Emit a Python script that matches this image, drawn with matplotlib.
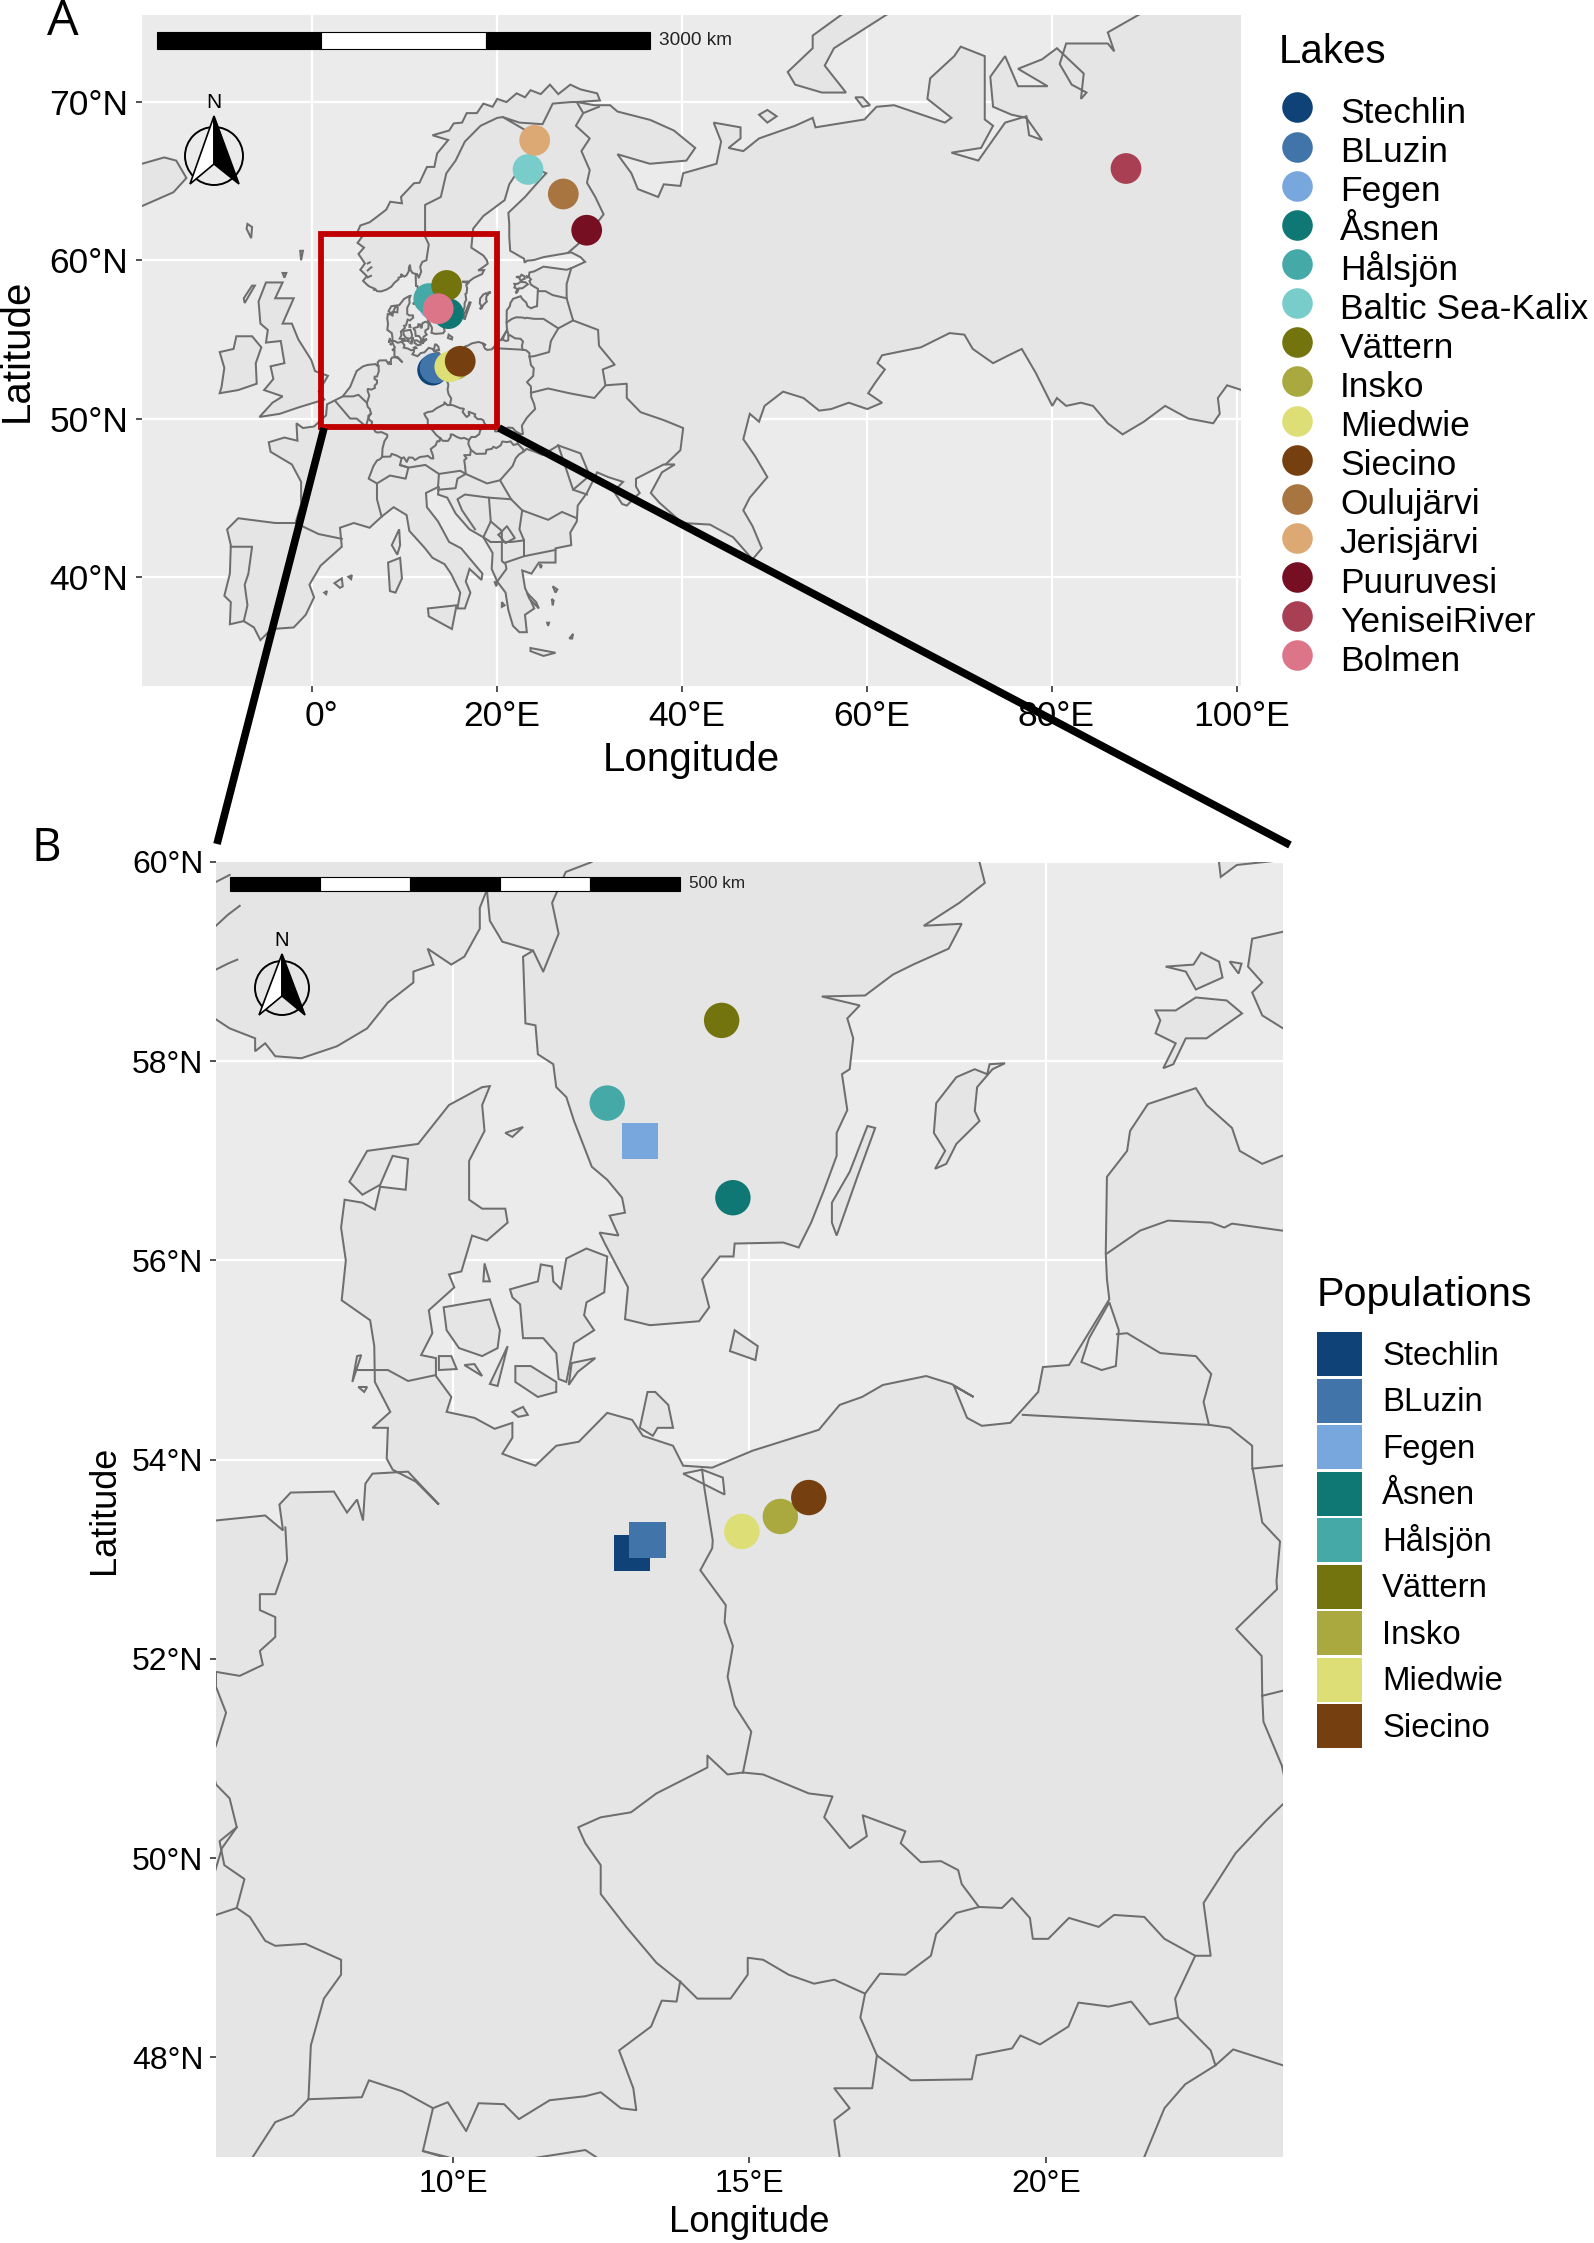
import matplotlib
matplotlib.use("Agg")
import matplotlib.pyplot as plt
from matplotlib.patches import Polygon, Rectangle, Circle, Patch
from matplotlib.lines import Line2D
from matplotlib.transforms import ScaledTranslation

plt.rcParams['font.family'] = ['Liberation Sans', 'DejaVu Sans']

W, H = 1594, 2243

# ---- data -----------------------------------------------------------------
lakes = ["Stechlin", "BLuzin", "Fegen", "Åsnen", "Hålsjön", "Baltic Sea-Kalix", "Vättern", "Insko",
         "Miedwie", "Siecino", "Oulujärvi", "Jerisjärvi", "Puuruvesi", "YeniseiRiver", "Bolmen"]
lake_lon = [13.02, 13.28, 13.15, 14.72, 12.6, 23.33, 14.53, 15.52, 14.87, 16.0, 27.14, 24.05, 29.67, 87.97, 13.62]
lake_lat = [53.06, 53.19, 57.2, 56.63, 57.58, 65.74, 58.41, 53.43, 53.28, 53.62, 64.19, 67.58, 61.9, 65.8, 56.94]
lake_colors = ["#0f4377", "#4174a8", "#77a7dc", "#0f7875", "#44a9a7", "#78cdcb", "#74740f", "#a9a93f",
               "#dede76", "#763f0f", "#a8743f", "#dca874", "#760f21", "#a83f52", "#dd7588"]
populations = ["Stechlin", "BLuzin", "Fegen", "Åsnen", "Hålsjön", "Vättern", "Insko", "Miedwie", "Siecino"]
pop_markers = ["s", "s", "s", "o", "o", "o", "o", "o", "o"]

main_land = [
    (110, 51.8), (100.47, 51.8), (98.9, 52.1), (97.9, 51.3), (98.1, 50.3), (97.4, 49.7), (94.7, 50.0), (92.2, 50.8),
    (89.9, 49.8), (87.6, 49.0), (86.0, 49.7), (84.4, 50.8), (83.1, 51.0), (81.5, 50.8), (80.5, 51.3), (80.0, 50.8),
    (78.2, 52.9), (76.7, 54.4), (75.3, 54.0), (73.6, 53.5), (71.4, 54.4), (70.5, 55.3), (68.9, 55.4), (65.8, 54.5),
    (61.6, 54.0), (61.1, 53.5), (61.9, 53.1), (60.9, 52.3), (60.1, 51.6), (61.6, 51.0), (60.0, 50.6), (58.0, 51.0),
    (56.1, 50.6), (54.8, 50.5), (53.1, 51.3), (50.9, 51.7), (48.9, 50.8), (48.3, 49.8), (47.3, 50.3), (46.6, 48.7),
    (47.9, 47.6), (49.2, 46.3), (47.3, 45.0), (46.6, 44.2), (47.6, 43.2), (48.6, 41.8), (47.6, 41.1), (45.5, 42.5),
    (43, 43.3), (40, 43.4), (37.5, 44.7), (36.6, 45.3), (37.8, 46.6), (39.2, 47.1), (38, 47.1), (35, 46.2), (35, 45.7),
    (35.4, 45.3), (34, 44.5), (33.5, 44.6), (32.6, 45.4), (33.6, 46.0), (32, 46.3), (30.8, 46.6), (29.7, 45.3),
    (28.7, 44.5), (28.6, 43.5), (27.9, 42.8), (28, 42), (26.3, 41.8), (26.3, 40.9), (24.5, 40.9), (23.7, 40.2),
    (22.7, 40.4), (23, 39.3), (24, 38), (23, 37.6), (23.2, 36.5), (22.4, 36.5), (21.7, 36.9), (21.2, 37.9), (20.9, 39),
    (20, 39.7), (19.4, 40.5), (19.5, 41.5), (18.5, 42.5), (17, 43), (15.5, 44), (14.6, 45), (13.6, 45.2), (13.7, 45.7),
    (12.3, 45.3), (12.4, 44.4), (13.6, 43.5), (14.8, 42.2), (16.1, 41.8), (18.4, 40.2), (18.3, 39.8), (17, 40.5),
    (16.6, 39.7), (17.1, 39), (16.5, 38), (15.7, 38), (16, 39), (15, 40.2), (14.3, 40.8), (13, 41.2), (12.2, 41.8),
    (10.5, 42.9), (10.2, 43.9), (8.8, 44.4), (7.5, 43.8), (6.2, 43.1), (4.5, 43.4), (3, 43.1), (3.2, 41.9), (0.9, 40.7),
    (-0.3, 39.5), (0.2, 38.7), (-0.7, 37.6), (-2, 36.8), (-4.4, 36.7), (-5.6, 36), (-6.3, 36.8), (-7.4, 37.2), (-8.9, 37),
    (-8.8, 38.4), (-9.5, 38.8), (-8.9, 40.2), (-8.8, 42), (-9.2, 43), (-8, 43.7), (-4, 43.4), (-1.8, 43.4), (-1.2, 44.6),
    (-1.2, 46), (-2.2, 47.1), (-4.5, 47.9), (-4.7, 48.5), (-3, 48.8), (-1.6, 48.6), (-1.7, 49.7), (-1, 49.4), (0.2, 49.5),
    (1.5, 50.2), (1.6, 50.9), (3.3, 51.4), (4.1, 52), (4.8, 53), (5.5, 53.3),
    (6.0, 53.39), (6.83, 53.44), (7.13, 53.29), (7.07, 53.55), (7.26, 53.67), (7.99, 53.68), (8.21, 53.47), (8.38, 53.6),
    (8.48, 53.39), (8.52, 53.76), (8.64, 53.86), (9.24, 53.88), (9.76, 53.55), (9.37, 53.78), (8.98, 53.9), (8.88, 54.01),
    (8.9, 54.32), (8.64, 54.32), (8.94, 54.48), (8.68, 54.78), (8.67, 55.14), (8.6, 55.4), (8.12, 55.6), (8.19, 56.0),
    (8.11, 56.33), (8.17, 56.61), (8.47, 56.58), (8.68, 56.51), (8.77, 56.74), (9.2, 56.71), (9.24, 57.02), (8.98, 57.05),
    (8.77, 56.76), (8.47, 56.66), (8.25, 56.79), (8.55, 57.1), (9.41, 57.17), (9.93, 57.56), (10.49, 57.74), (10.62, 57.75),
    (10.49, 57.56), (10.53, 57.3), (10.27, 57.0), (10.27, 56.61), (10.49, 56.52), (10.88, 56.52), (10.92, 56.38),
    (10.57, 56.2), (10.32, 56.25), (10.14, 55.89), (9.93, 55.86), (10.02, 55.73), (9.59, 55.5), (9.65, 55.27), (9.46, 55.05),
    (9.71, 55.02), (9.71, 54.84), (9.97, 54.63), (9.89, 54.48), (10.36, 54.42), (10.7, 54.31), (11.0, 54.37), (11.0, 54.22),
    (10.83, 54.06), (11.05, 54.01), (11.39, 53.94), (11.74, 54.14), (12.12, 54.18), (12.6, 54.47), (13.02, 54.4), (13.2, 54.24),
    (13.71, 54.14), (13.88, 53.94), (14.37, 53.92), (15.05, 54.09), (16.17, 54.3), (16.52, 54.55), (16.9, 54.63), (17.25, 54.75),
    (17.98, 54.84), (18.41, 54.76), (18.78, 54.63), (18.45, 54.74), (18.67, 54.42), (18.92, 54.34), (19.4, 54.37), (19.87, 54.68),
    (19.95, 54.93), (20.39, 54.95), (21.07, 55.61), (21.03, 55.81), (21.01, 56.07), (21.03, 56.84), (21.37, 57.1), (21.42, 57.3),
    (21.72, 57.57), (22.53, 57.73), (22.71, 57.56), (23.14, 57.33), (23.27, 57.1), (23.65, 56.97), (23.98, 57.05), (24.3, 57.1),
    (24.4, 58.2), (24.0, 58.33), (23.65, 58.46), (23.48, 58.69), (23.65, 58.79), (23.41, 58.95), (23.48, 59.23), (24.0, 59.3),
    (25, 59.6), (27.5, 59.4), (28, 59.5), (29.5, 59.9), (29, 60.2), (28, 60.5), (25, 60.2), (24, 60.02), (23.22, 59.97),
    (22.95, 59.85), (22.9, 60.1), (21.4, 60.6), (21.3, 61.5), (21.3, 62.3), (21.2, 63), (23, 64), (24.5, 65), (25.3, 65.5),
    (24.1, 65.8), (22.3, 65.7), (21.3, 64.8), (20.8, 63.8), (18.5, 62.8), (17.4, 62), (17.2, 60.8), (18.5, 60.3),
    (18.88, 60.0), (18.97, 59.79), (18.54, 59.59), (17.94, 59.36), (18.58, 59.38), (18.36, 59.13), (17.76, 58.97), (17.42, 58.87),
    (16.95, 58.66), (16.22, 58.65), (16.86, 58.56), (16.65, 58.43), (16.75, 58.23), (16.69, 57.92), (16.56, 57.87), (16.65, 57.51),
    (16.47, 57.28), (16.47, 57.05), (16.26, 56.71), (16.04, 56.38), (15.83, 56.13), (15.57, 56.18), (14.75, 56.17), (14.73, 56.04),
    (14.5, 56.04), (14.2, 55.81), (14.32, 55.53), (14.15, 55.39), (13.32, 55.35), (12.9, 55.41), (12.95, 55.73), (12.56, 56.17),
    (12.47, 56.28), (12.79, 56.25), (12.64, 56.45), (12.9, 56.48), (12.85, 56.63), (12.6, 56.81), (12.34, 56.94), (12.04, 57.4),
    (11.91, 57.64), (11.74, 57.74), (11.69, 57.97), (11.43, 58.07), (11.39, 58.36), (11.22, 58.38), (11.18, 59.05), (11.35, 59.11),
    (10.83, 59.2), (10.62, 59.41), (10.57, 59.72), (10.45, 59.54), (10.45, 59.33), (10.19, 59.05), (9.97, 58.97), (9.57, 59.13),
    (9.67, 58.97), (9.33, 58.9), (9.33, 58.79), (8.9, 58.59), (8.55, 58.33), (8.04, 58.15), (7.44, 58.03), (7.0, 58.05), (6.83, 58.18),
    (6.66, 58.1), (6.66, 58.23), (6.23, 58.33), (6.0, 58.42), (5.5, 58.7), (5.9, 59.0), (5.2, 59.4), (5.7, 59.8), (5, 60.4), (5.6, 60.8),
    (4.9, 61.1), (5.4, 61.5), (4.83, 61.7), (5.2, 62.2), (6.2, 62.4), (7, 62.75), (8.0, 63.2), (8.43, 63.7), (9.7, 63.6), (9.6, 64.0),
    (11, 64.87), (11.6, 64.9), (12.0, 65.4), (12.4, 65.9), (13.2, 65.9), (13.5, 66.75), (14.7, 67.6), (13, 67.9), (14.8, 68.2),
    (15.3, 68.65), (16.2, 68.7), (16.7, 69.3), (17.8, 69.3), (18.5, 69.9), (19.5, 69.7), (20, 70.2), (21, 70), (22.1, 70.55), (23, 70.3),
    (23.6, 70.75), (24.7, 70.5), (25.7, 71.1), (26.6, 70.5), (27.9, 71.1), (29, 70.8), (30.8, 70.55), (31.1, 70.1), (28.6, 70.0),
    (30.5, 69.8), (32.2, 69.8), (33, 69.4), (36.54, 68.87), (39.1, 68.2), (41.4, 67.1), (40.45, 66.3), (36.5, 66.1), (33, 66.7),
    (34.5, 65.5), (35.2, 64.5), (37.4, 64), (38, 64.8), (39.8, 64.7), (40.1, 65.5), (43.7, 66.1), (44.2, 67.5), (43.4, 68.7),
    (46.3, 68.4), (46.3, 67.7), (45, 67.1), (46.6, 66.9), (48.3, 67.7), (52.2, 68.5), (54.1, 69), (54.4, 68.4), (59.7, 68.9),
    (61, 69.7), (62.9, 69.8), (68.4, 68.7), (69.1, 69), (66.5, 70.2), (66.8, 71.5), (69.4, 72.9), (70.1, 73.5), (72.7, 72.9),
    (72.7, 68.9), (73.6, 68.5), (72.3, 67.1), (69.1, 66.8), (72, 66.3), (74.9, 68.7), (77.2, 69.1), (77.5, 67.9), (78.9, 67.6),
    (77.2, 69.0), (75.6, 69.2), (73.6, 69.7), (73.3, 71.6), (74.9, 72.9), (76.3, 71), (79.5, 71), (76.3, 72.1), (78.9, 72.7),
    (80.5, 73.4), (83.4, 71.8), (83.1, 70.2), (83.7, 70.6), (82.1, 71.1), (80.8, 72.4), (81.5, 73.7), (86, 73.7), (86.7, 73.2),
    (86, 74.4), (89.6, 75.6), (110, 76),
]
islands = [
    [(57.4, 75.6), (54.1, 74.2), (54.1, 73.4), (51.4, 71.9), (52.2, 71.1), (55.1, 70.6), (57.7, 70.6), (55.4, 72.3), (56.4, 73.4), (62.3, 75.6)],
    [(48.3, 69.2), (49.2, 69.5), (50.2, 69.1), (49.2, 68.7)],
    [(58.7, 70.3), (59.5, 70.3), (60.3, 69.8), (59.5, 69.7)],
    [(-20, 66.1), (-18.4, 66.1), (-16, 66.5), (-14.7, 66.3), (-13.6, 65.2), (-15, 64.3), (-18.5, 63.4), (-20, 63.5)],
    [(-5.7, 50.1), (-3.5, 50.3), (-1.5, 50.7), (1.3, 51.2), (0.7, 51.7), (1.7, 52.7), (0.3, 53), (-0.1, 53.7), (-1.5, 55), (-2.2, 56), (-3.2, 56), (-2, 57.6),
     (-4, 57.6), (-3.2, 58.6), (-5, 58.6), (-5.8, 57.4), (-5.6, 56), (-4.8, 55.6), (-5, 54.8), (-3.4, 54.9), (-3, 53.5), (-4.5, 53.3), (-4.2, 52.5),
     (-5.2, 51.8), (-3.2, 51.4), (-4.3, 51)],
    [(-6, 52.2), (-6.1, 53.5), (-5.5, 54.5), (-6.5, 55.2), (-8.2, 55.2), (-8.5, 54.4), (-10, 54.2), (-9.5, 53.2), (-9.8, 52), (-10, 51.6), (-8, 51.8)],
    [(-7, 62.3), (-6.5, 62.1), (-6.6, 61.4), (-7.1, 62)],
    [(-1.3, 60.6), (-1, 60.6), (-1.2, 60)],
    [(-3.2, 59.2), (-2.8, 59.2), (-3, 58.9)],
    [(-6.5, 58.4), (-6.2, 58.4), (-7.3, 57.3), (-7.4, 57.6)],
    [(12.5, 38), (15.6, 38.2), (15.1, 36.7), (12.6, 37.5)],
    [(8.2, 40.9), (9.5, 41.2), (9.7, 39.9), (9, 39), (8.4, 39.1)],
    [(9.4, 43), (9.5, 42), (9.2, 41.4), (8.6, 42)],
    [(2.4, 39.6), (3.2, 39.9), (3.3, 39.4), (3, 39.3)],
    [(3.9, 40), (4.3, 40.1), (4.2, 39.85)],
    [(1.3, 39), (1.6, 39.1), (1.5, 38.9)],
    [(23.6, 35.5), (24.5, 35.4), (26.3, 35.2), (25, 35), (23.6, 35.3)],
    [(23.2, 39), (24.2, 38.4), (24.5, 38), (23.5, 38.6)],
    [(26, 39.4), (26.5, 39.2), (26.3, 39)],
    [(25.9, 38.6), (26.1, 38.5), (26, 38.2)],
    [(25.4, 37.1), (25.6, 37.1), (25.5, 36.9)],
    [(27.8, 36.1), (28.2, 36.4), (28.1, 36.1)],
    [(20.5, 38.4), (20.8, 38.2), (20.5, 38.1)],
    [(19.7, 39.7), (20, 39.6), (19.9, 39.4)],
    [(24.6, 40.8), (24.8, 40.7), (24.7, 40.55)],
    [(10.96, 55.71), (11.43, 55.79), (11.48, 55.96), (11.67, 55.94), (11.69, 55.79), (11.82, 55.71), (11.91, 56.02), (12.25, 56.12), (12.6, 56.04),
     (12.55, 55.68), (12.25, 55.58), (12.21, 55.45), (12.38, 55.3), (12.04, 55.17), (11.91, 54.78), (11.78, 54.81), (11.74, 55.07), (11.52, 55.22),
     (11.18, 55.22), (11.13, 55.56), (11.0, 55.63)],
    [(9.84, 55.53), (10.32, 55.58), (10.62, 55.61), (10.79, 55.3), (10.75, 55.12), (10.49, 55.04), (10.1, 55.12), (9.89, 55.3)],
    [(11.05, 54.94), (11.31, 54.94), (11.74, 54.78), (11.74, 54.68), (11.43, 54.63), (11.05, 54.78)],
    [(12.0, 54.97), (12.4, 55.02), (12.1, 54.88), (11.95, 54.75)],
    [(10.92, 55.14), (10.62, 54.76), (10.75, 54.74)],
    [(10.19, 54.95), (10.36, 54.96), (10.49, 54.84)],
    [(9.76, 55.04), (9.97, 55.04), (10.06, 54.91), (9.76, 54.9)],
    [(11.0, 54.48), (11.18, 54.53), (11.26, 54.45), (11.1, 54.43)],
    [(8.38, 55.04), (8.45, 55.05), (8.3, 54.78)],
    [(8.4, 54.73), (8.55, 54.73), (8.5, 54.68)],
    [(13.15, 54.32), (13.28, 54.68), (13.41, 54.68), (13.63, 54.55), (13.71, 54.32), (13.45, 54.32), (13.37, 54.24)],
    [(10.88, 57.28), (11.18, 57.34), (11.0, 57.24)],
    [(10.53, 55.97), (10.62, 55.79), (10.51, 55.79)],
    [(14.75, 55.3), (15.14, 55.14), (15.1, 55.0), (14.67, 55.09)],
    [(16.99, 57.35), (17.12, 57.33), (16.82, 56.84), (16.47, 56.25), (16.39, 56.38), (16.39, 56.58), (16.69, 56.89)],
    [(19.31, 57.98), (19.05, 57.97), (19.01, 57.87), (18.8, 57.92), (18.49, 57.84), (18.15, 57.58), (18.11, 57.28), (18.3, 57.1), (18.13, 56.92),
     (18.32, 56.97), (18.49, 57.17), (18.88, 57.4), (18.8, 57.5), (18.84, 57.74), (19.1, 57.92)],
    [(21.85, 58.51), (22.19, 58.51), (22.53, 58.64), (23.05, 58.61), (23.31, 58.48), (22.71, 58.23), (22.36, 58.23), (22.15, 57.97), (21.98, 57.93),
     (22.19, 58.18), (21.85, 58.28), (21.93, 58.41)],
    [(22.02, 58.95), (22.49, 58.97), (22.62, 59.09), (22.92, 59.0), (22.98, 58.84), (22.53, 58.72), (22.36, 58.9)],
    [(23.1, 59.0), (23.3, 58.98), (23.25, 58.88)],
]
lagoons = [
    [(13.88, 53.86), (14.58, 53.65), (14.55, 53.82), (14.2, 53.9)],
    [(20.6, 54.98), (20.94, 54.9), (21.18, 54.94), (21.23, 55.3), (21.07, 55.58), (20.73, 55.22)],
]
fjords = [
    [(6, 59.8), (6.23, 59.87)],
    [(6, 59.36), (6.2, 59.47), (6.4, 59.56)],
    [(6, 58.92), (6.2, 58.98), (6.36, 59.02)],
]
borders = [
    [(8.38, 54.9), (8.9, 54.9), (9.24, 54.79), (9.71, 54.85)],
    [(7.17, 53.32), (7.2, 52.99), (7.0, 52.65), (6.74, 52.65), (6.74, 52.49), (7.0, 52.42), (7.0, 52.22), (6.74, 52.08), (6.79, 51.94), (6.4, 51.83),
     (6.0, 51.87), (6.0, 51.72), (6.17, 51.46), (6, 51.13), (5.9, 51), (6, 50.74), (6.23, 50.6), (6.35, 50.31), (6.06, 50.17), (6.14, 49.93), (6.48, 49.79), (6.35, 49.5), (6, 49.43), (5.8, 49.5)],
    [(6.35, 49.5), (6.57, 49.41), (6.83, 49.17), (7.0, 49.12), (7.51, 49.14), (8.11, 48.98), (8.11, 48.83), (7.82, 48.59), (7.6, 48.12), (7.56, 47.58)],
    [(7.56, 47.58), (8.46, 47.6), (8.58, 47.77), (9.14, 47.66), (9.66, 47.49), (9.91, 47.55), (10.22, 47.26), (10.43, 47.54), (10.86, 47.53), (11.11, 47.38),
     (11.63, 47.57), (12.23, 47.61), (12.49, 47.65), (12.83, 47.49), (13.09, 47.47), (13.04, 47.69), (12.8, 48.07), (13.34, 48.31), (13.52, 48.57), (13.77, 48.56), (13.83, 48.76)],
    [(13.83, 48.76), (13.43, 48.95), (12.92, 49.31), (12.49, 49.64), (12.49, 49.93), (12.23, 50.15), (12.11, 50.31), (12.49, 50.41), (13, 50.46), (13.43, 50.65), (14.29, 50.91), (14.29, 51.03), (14.63, 50.84), (14.89, 50.86)],
    [(14.89, 50.86), (15.03, 51.27), (14.75, 51.53), (14.63, 51.82), (14.72, 52.13), (14.58, 52.37), (14.6, 52.54), (14.17, 52.89), (14.37, 53.11), (14.38, 53.19), (14.24, 53.71), (14.2, 53.9)],
    [(14.89, 50.86), (15.23, 50.84), (16.0, 50.65), (16.4, 50.62), (16.26, 50.41), (16.69, 50.1), (16.98, 50.22), (16.91, 50.43), (17.63, 50.27), (17.55, 50.15), (17.89, 49.96), (18.23, 49.97), (18.52, 49.88), (18.58, 49.74), (18.87, 49.51)],
    [(18.87, 49.51), (18.49, 49.45), (18.15, 49.24), (18.06, 49.02), (17.63, 48.83), (17.2, 48.84), (16.95, 48.64), (16.43, 48.78), (16.09, 48.74), (15.66, 48.83), (15.23, 48.98), (14.97, 49.0), (14.97, 48.83), (14.68, 48.59), (14.12, 48.59), (13.83, 48.76)],
    [(18.87, 49.51), (19.26, 49.5), (19.43, 49.6), (19.73, 49.4), (19.78, 49.19), (20.04, 49.19), (20.39, 49.4), (20.89, 49.31), (21.15, 49.43), (21.66, 49.41), (22.0, 49.19), (22.52, 49.02), (22.78, 49.02), (22.66, 49.55), (23.2, 50.05), (23.72, 50.38), (24.1, 50.6), (23.98, 50.93), (23.67, 51.37), (23.65, 51.63)],
    [(23.65, 51.63), (23.64, 52.03), (23.21, 52.3), (23.9, 52.7), (23.89, 52.78), (23.95, 53.18), (23.65, 53.37), (23.48, 53.94), (23.48, 54.14), (23.1, 54.32), (22.75, 54.35), (19.61, 54.45)],
    [(22.75, 54.35), (22.66, 54.58), (22.79, 54.86), (22.53, 55.04), (21.93, 55.07), (21.37, 55.27), (21.2, 55.26)],
    [(21.03, 56.07), (21.59, 56.3), (22.06, 56.4), (22.79, 56.38), (23.01, 56.33), (23.14, 56.37), (23.98, 56.3), (25, 56.3), (26.6, 55.7)],
    [(23.48, 53.91), (23.98, 53.94), (25.6, 54.2), (25.8, 54.9), (26.6, 55.7), (28.2, 56.2), (27.5, 57.6), (27.5, 58.5), (28, 59.5)],
    [(16.95, 48.64), (16.87, 48.4), (17.15, 48.02), (17.72, 47.77), (18.75, 47.78), (18.83, 48.02), (19.43, 48.09), (19.57, 48.22), (19.9, 48.13), (20.38, 48.31), (20.55, 48.55), (21.06, 48.51), (21.44, 48.56), (21.75, 48.33), (22.23, 48.4)],
    [(22.52, 49.02), (22.18, 48.59), (22.23, 48.4), (22.78, 48.07), (22.86, 47.92), (23.16, 48.08), (24.0, 47.92), (24.9, 47.7), (26.6, 48.3)],
    [(22.86, 47.92), (22.35, 47.73), (22.0, 47.49), (21.66, 47.0), (20.3, 46.1), (21.5, 44.9), (22.7, 44.2), (25.5, 43.6), (27, 44.1), (28.6, 43.7)],
    [(17.15, 48.02), (17.07, 47.69), (16.43, 47.69), (16.69, 47.49), (16.43, 47.37), (16.52, 47.0), (16.6, 46.5), (15.7, 46.2), (15.5, 45.6), (13.6, 45.5)],
    [(9.66, 47.49), (9.49, 47.06), (9.9, 47.0), (10.4, 46.9), (12.23, 47.07), (13.7, 46.5), (16, 46.7), (16.6, 46.5), (18.9, 45.9), (20.3, 46.1)],
    [(13.7, 46.5), (13.6, 45.7)],
    [(7.56, 47.58), (7.3, 47.42), (7, 47.35), (6.62, 47.0), (6.1, 46.2), (7, 45.9), (7, 44.9), (7.5, 43.8)],
    [(9.49, 47.06), (10.4, 46.9), (10.1, 46.2), (8.4, 46.4), (7, 45.9)],
    [(-1.8, 43.4), (0.7, 42.7), (3.2, 42.4)],
    [(-8.8, 41.9), (-6.5, 41.9), (-6.9, 40.2), (-7.3, 39.5), (-7, 38.2), (-7.4, 37.2)],
    [(3.4, 51.4), (4.4, 51.4), (5, 51.5), (5.9, 51)],
    [(2.5, 51.1), (4.1, 50), (4.8, 50), (5.8, 49.5), (6.1, 50.1), (6.35, 50.31)],
    [(11.35, 59.11), (11.52, 58.9), (11.78, 59.28), (11.67, 59.59), (11.9, 59.9), (12.34, 60), (12.6, 61), (12.2, 61.5), (12.2, 63.5), (13.9, 64), (14.5, 65.5), (15.5, 66.3), (16.5, 67.5), (18.2, 68.5), (20, 69), (20.6, 69.05)],
    [(24.1, 65.8), (23.5, 67), (23.7, 68), (20.6, 69.05), (22.4, 68.7), (24.9, 68.6), (26, 69.9), (28, 70.0), (28.6, 70.0), (29.3, 69.3), (31, 69.7)],
    [(29.3, 69.3), (28.5, 68.5), (30, 67.7), (29.1, 66.9), (30, 65.7), (29.7, 64.9), (30.6, 64), (31.5, 62.9), (29.5, 61.4), (27.7, 60.5)],
    [(24.4, 58.05), (25.2, 58.05), (26, 57.8), (27.5, 57.6)],
    [(28.2, 56.2), (30.9, 55.6), (31, 54.6), (32.7, 53.4), (31.4, 53.1), (31.7, 52.1), (30.5, 51.3), (27.8, 51.6), (25.5, 51.9), (23.65, 51.63)],
    [(31.7, 52.1), (34, 52.2), (34, 51.3), (35.5, 50.4), (38, 49.9), (40.1, 49.4), (39.8, 48), (38.2, 47.1)],
    [(26.6, 48.3), (29, 47.8), (30, 46.4), (28.2, 45.5), (29.7, 45.2)],
    [(26.6, 48.3), (28.2, 45.5)],
    [(18.5, 42.5), (19.3, 43.5), (19.1, 45), (16.5, 45.2), (15.7, 44.9), (16.2, 44.2), (17.6, 43)],
    [(19.1, 45), (21.5, 44.9)],
    [(19.3, 43.5), (20.5, 42.9), (20.5, 42.2), (21.5, 42.2), (22.9, 42.3), (22.4, 43), (22.7, 44.2)],
    [(19.3, 42.2), (20.5, 42.2), (20.5, 41), (20.9, 40.8), (21, 40.5), (20, 39.7)],
    [(20.9, 40.9), (22.9, 41.3), (26.3, 41.7)],
    [(22.9, 41.3), (22.9, 42.3)],
    [(18.5, 42.5), (19.3, 42.2)],
    [(20.15, 42.65), (21.05, 43.2), (21.9, 42.45), (20.9, 42.13), (20.15, 42.65)],
]

sea, land, edge = "#ebebeb", "#e5e5e5", "#6e6e6e"
line_w = 1.45


def make_map(ax, lonlim, latlim, xticks, xlabels, yticks, ylabels, tickfs, pad):
    ax.set_facecolor(sea)
    ax.set_xlim(*lonlim)
    ax.set_ylim(*latlim)
    ax.set_xticks(xticks, xlabels)
    ax.set_yticks(yticks, ylabels)
    ax.grid(True, color="white", lw=1.6, zorder=1)
    ax.set_axisbelow(True)
    for s in ax.spines.values():
        s.set_visible(False)
    ax.tick_params(length=4, width=1.2, color="#333333", labelsize=tickfs, labelcolor="black", pad=pad)
    ax.add_patch(Polygon(main_land, closed=True, fc=land, ec=edge, lw=line_w, zorder=2))
    for p in lagoons:
        ax.add_patch(Polygon(p, closed=True, fc=sea, ec=edge, lw=line_w, zorder=2.5))
    for p in islands:
        ax.add_patch(Polygon(p, closed=True, fc=land, ec=edge, lw=line_w, zorder=2.6))
    for b in borders + fjords:
        ax.plot([q[0] for q in b], [q[1] for q in b], color=edge, lw=line_w, zorder=3)


def north_arrow(ov, cx, cy, r, tip, notch, foot, left, right, ny, fs):
    ov.add_patch(Circle((cx, cy), r, fc="none", ec="black", lw=1.4, zorder=6))
    ov.add_patch(Polygon([(cx, tip), (left, foot), (cx, notch)], fc="white", ec="black", lw=1.2, zorder=7))
    ov.add_patch(Polygon([(cx, tip), (right, foot), (cx, notch)], fc="black", ec="black", lw=1.2, zorder=7))
    ov.text(cx, ny, "N", ha="center", va="center", fontsize=fs, zorder=7)


def scale_bar(ov, x0, x1, y0, y1, n, label, fs):
    step = (x1 - x0) / n
    for i in range(n):
        ov.add_patch(Rectangle((x0 + i * step, y0), step, y1 - y0, fc="black" if i % 2 == 0 else "white",
                               ec="black", lw=0.8, zorder=6))
    ov.text(x1 + 9, (y0 + y1) / 2, label, ha="left", va="center", fontsize=fs, color="#222222", zorder=6)


fig = plt.figure(figsize=(W / 100, H / 100), dpi=100, facecolor="white")

# ---- panel A
axA = fig.add_axes([142 / W, 1 - 686 / H, (1241 - 142) / W, (686 - 15) / H])
make_map(axA, (-18.4, 100.4), (33.1, 75.5), [0, 20, 40, 60, 80, 100], ["0°", "20°E", "40°E", "60°E", "80°E", "100°E"],
         [40, 50, 60, 70], ["40°N", "50°N", "60°N", "70°N"], 25.5, 6)
for i, lab in enumerate(axA.get_xticklabels()):
    dx = 6.5 if i == 0 else 3.0
    lab.set_transform(lab.get_transform() + ScaledTranslation(dx / 72, 0, fig.dpi_scale_trans))
for lo, la, c in zip(lake_lon, lake_lat, lake_colors):
    axA.scatter([lo], [la], s=490, color=c, edgecolors="none", zorder=5)
axA.add_patch(Rectangle((1.0, 49.45), 19.0, 12.2, fc="none", ec="#c00000", lw=4.2, zorder=6))
axA.set_xlabel("Longitude", fontsize=29, labelpad=5.5)
axA.set_ylabel("Latitude", fontsize=29, labelpad=9.5)

# ---- panel B
axB = fig.add_axes([216 / W, 1 - 2157 / H, (1283 - 216) / W, (2157 - 862) / H])
make_map(axB, (6, 24), (47, 60), [10, 15, 20], ["10°E", "15°E", "20°E"],
         [48, 50, 52, 54, 56, 58, 60], ["48°N", "50°N", "52°N", "54°N", "56°N", "58°N", "60°N"], 23, 5)
for name, m in zip(populations, pop_markers):
    i = lakes.index(name)
    axB.scatter([lake_lon[i]], [lake_lat[i]], s=680 if m == "s" else 650, marker=m, color=lake_colors[i],
                edgecolors="none", zorder=5)
axB.set_xlabel("Longitude", fontsize=26.3, labelpad=4)
axB.set_ylabel("Latitude", fontsize=26, labelpad=7)

# ---- legends
handlesA = [Line2D([], [], ls="none", marker="o", ms=22, mfc=c, mec="none") for c in lake_colors]
legA = fig.legend(handlesA, lakes, title="Lakes", loc="upper left", bbox_to_anchor=(1279 / W, 1 - 33 / H),
                  frameon=False, fontsize=25.5, title_fontsize=29, alignment="left", borderpad=0, borderaxespad=0,
                  handlelength=1.0, handletextpad=0.72, handleheight=1.3, labelspacing=0.015)
legA._legend_box.sep = 15

handlesB = [Patch(fc=lake_colors[lakes.index(n)], ec="none") for n in populations]
legB = fig.legend(handlesB, populations, title="Populations", loc="upper left", bbox_to_anchor=(1317 / W, 1 - 1276 / H),
                  frameon=False, fontsize=23.7, title_fontsize=29.7, alignment="left", borderpad=0, borderaxespad=0,
                  handlelength=1.37, handletextpad=0.61, handleheight=1.68, labelspacing=0.076)
legB._legend_box.sep = 13

# ---- annotation layer in image pixels
ov = fig.add_axes([0, 0, 1, 1], zorder=5)
ov.set_xlim(0, W)
ov.set_ylim(H, 0)
ov.axis("off")
scale_bar(ov, 157, 650, 32, 49, 3, "3000 km", 13.7)
scale_bar(ov, 230, 680, 877, 891, 5, "500 km", 12.3)
north_arrow(ov, 214, 156, 29, 116, 164, 184, 190, 239, 103, 15)
north_arrow(ov, 282, 988, 27, 954, 996, 1015, 259, 305, 941, 14.5)
ov.plot([324, 217], [428, 844], color="black", lw=5.5, solid_capstyle="butt", zorder=8)
ov.plot([499, 1290], [428, 845], color="black", lw=5.5, solid_capstyle="butt", zorder=8)
ov.text(63, 22, "A", ha="center", va="center", fontsize=36, family="Open Sans")
ov.text(46, 849, "B", ha="center", va="center", fontsize=33, family="Open Sans")

fig.savefig("out.png", dpi=100)
